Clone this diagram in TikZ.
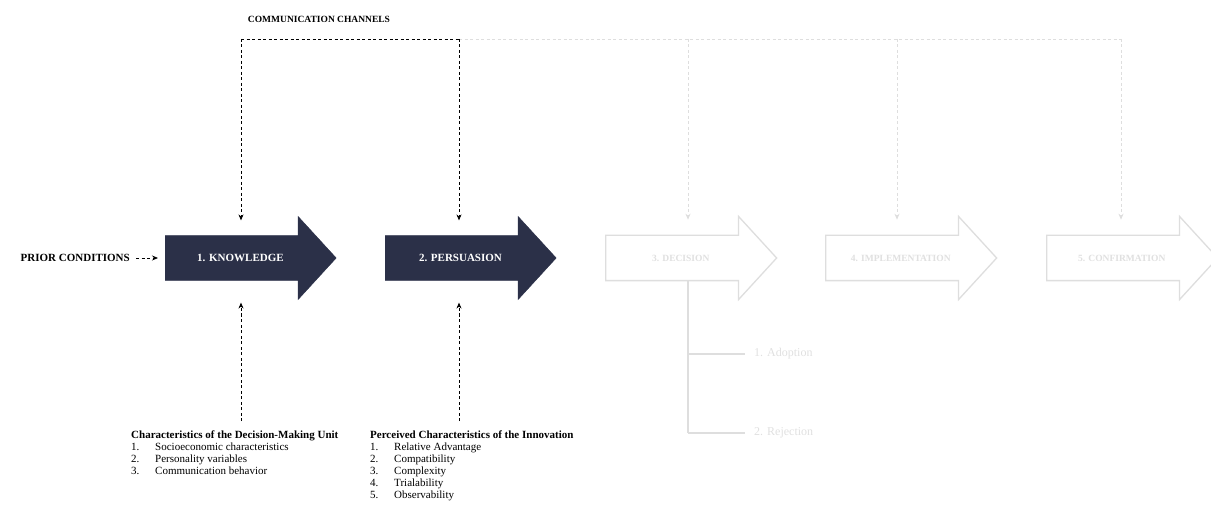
\documentclass[tikz,border=0pt]{standalone}
\usepackage{fontspec}
\setmainfont{Liberation Serif}
\usetikzlibrary{shapes.arrows,arrows.meta}
\definecolor{stagenavy}{HTML}{2B3048}
\definecolor{fadeline}{HTML}{DEDEDE}
\definecolor{fadetext}{HTML}{E0E0E0}

\begin{document}
\begin{tikzpicture}[x=1pt, y=-1pt]
    % Define styles
    \tikzstyle{stage} = [single arrow, draw=stagenavy, fill=stagenavy, text=white, font=\fontsize{11}{12}\selectfont\bfseries, text height=7pt, text depth=0pt, minimum width=83pt, minimum height=171pt, inner ysep=18.5pt, single arrow head extend=19pt, single arrow tip angle=95, anchor=tail]
    \tikzstyle{faded} = [stage, draw=fadeline, fill=white, text=fadetext, line width=1.3pt, font=\fontsize{9.5}{11}\selectfont\bfseries]
    \tikzstyle{caps} = [font=\fontsize{9.5}{11}\selectfont\bfseries, inner sep=1pt]
    \tikzstyle{channel} = [dash pattern=on 3pt off 2.5pt, line width=0.8pt, -{Stealth[length=6pt,width=5pt]}]
    \tikzstyle{channelfade} = [channel, draw=fadeline, -{Stealth[length=6pt,width=5pt,fill=fadeline]}]
    \tikzstyle{branch} = [draw=fadeline, line width=1.3pt]
    \tikzstyle{listblock} = [anchor=north west, align=left, inner sep=0pt, font=\fontsize{11}{12}\selectfont]

    \useasboundingbox (0,0) rectangle (1211,513);

    % Nodes
    \node[caps] (channels) at (319,19) {COMMUNICATION CHANNELS};
    \node[caps, anchor=east, font=\fontsize{11}{12}\selectfont\bfseries] (prior) at (131,258) {PRIOR CONDITIONS};

    \node[stage] (know) at (165,258) {1. KNOWLEDGE};
    \node[stage] (pers) at (385,258) {2. PERSUASION};
    \node[faded] (dec) at (605,258) {3. DECISION};
    \node[faded] (impl) at (825,258) {4. IMPLEMENTATION};
    \node[faded] (conf) at (1046,258) {5. CONFIRMATION};

    \node[listblock, text=fadetext, anchor=west, font=\fontsize{12}{13}\selectfont] (adopt) at (754,354) {1. Adoption};
    \node[listblock, text=fadetext, anchor=west, font=\fontsize{12}{13}\selectfont] (reject) at (754,433) {2. Rejection};

    \node[listblock] (dmu) at (131,431) {\textbf{Characteristics of the Decision-Making Unit}\\
        \makebox[24pt][l]{1.}Socioeconomic characteristics\\
        \makebox[24pt][l]{2.}Personality variables\\
        \makebox[24pt][l]{3.}Communication behavior};
    \node[listblock] (pci) at (370,431) {\textbf{Perceived Characteristics of the Innovation}\\
        \makebox[24pt][l]{1.}Relative Advantage\\
        \makebox[24pt][l]{2.}Compatibility\\
        \makebox[24pt][l]{3.}Complexity\\
        \makebox[24pt][l]{4.}Trialability\\
        \makebox[24pt][l]{5.}Observability};

    % Channel line
    \coordinate (cc-a) at (241,39);
    \coordinate (cc-b) at (459,39);
    \coordinate (cc-c) at (688,39);
    \coordinate (cc-d) at (897,39);
    \coordinate (cc-e) at (1121,39);
    \coordinate (dmu-in) at (241,421);
    \coordinate (pci-in) at (459,421);
    \coordinate (dec-stem) at (688,433);

    \draw[channel, -] (cc-a) -- (cc-b);
    \draw[channelfade, -] (cc-b) -- (cc-e);

    % Flow arrows
    \draw[channel, shorten >=15pt] (cc-a) -- (cc-a |- know.north);
    \draw[channel, shorten >=15pt] (cc-b) -- (cc-b |- pers.north);
    \draw[channelfade, shorten >=15pt] (cc-c) -- (cc-c |- dec.north);
    \draw[channelfade, shorten >=15pt] (cc-d) -- (cc-d |- impl.north);
    \draw[channelfade, shorten >=15pt] (cc-e) -- (cc-e |- conf.north);

    \draw[channel, shorten >=22pt] (dmu-in) -- (dmu-in |- know.south);
    \draw[channel, shorten >=22pt] (pci-in) -- (pci-in |- pers.south);
    \draw[channel, shorten <=5pt, shorten >=7pt] (prior.east) -- (know.tail);

    % Decision outcomes
    \draw[branch] (dec-stem |- dec.south) -- (dec-stem);
    \draw[branch] (dec-stem |- adopt.west) -- ([xshift=-9pt]adopt.west);
    \draw[branch] (dec-stem |- reject.west) -- ([xshift=-9pt]reject.west);
\end{tikzpicture}
\end{document}
